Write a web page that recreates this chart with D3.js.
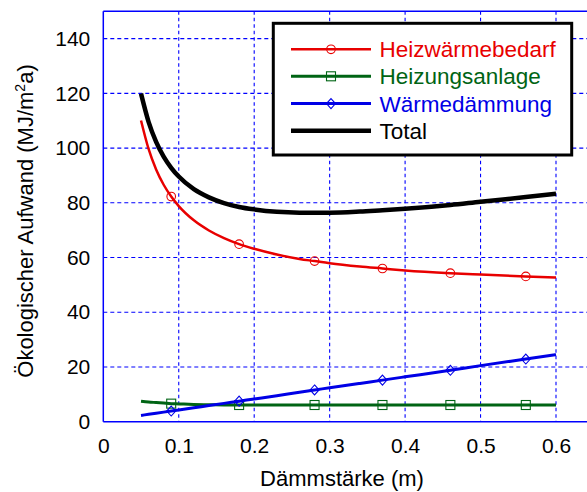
<!DOCTYPE html>
<html>
<head>
<meta charset="utf-8">
<script src="https://cdn.jsdelivr.net/npm/d3@7"></script>
<style>
  body { margin: 0; background: #fff; }
  svg text { font-family: "Liberation Sans", Arial, sans-serif; }
</style>
</head>
<body>
<svg id="chart" width="587" height="492"></svg>
<script>
// Dämmstärke (m)
const thickness = [0.05, 0.06, 0.07, 0.08, 0.09, 0.10, 0.12, 0.14, 0.16, 0.18, 0.20,
  0.23, 0.26, 0.28, 0.30, 0.34, 0.37, 0.40, 0.46, 0.50, 0.56, 0.60];
const heizwaerme = [110.1, 99.7, 92.2, 86.6, 82.3, 78.8, 73.6, 69.9, 67.1, 64.9, 63.2,
  61.1, 59.5, 58.7, 57.9, 56.7, 56.0, 55.3, 54.3, 53.8, 53.1, 52.7];
const heizung = [7.5, 7.2, 7.0, 6.8, 6.6, 6.5, 6.3, 6.2, 6.1, 6.1, 6.1,
  6.1, 6.1, 6.1, 6.1, 6.1, 6.1, 6.1, 6.1, 6.1, 6.1, 6.1];
const daemmung = [2.3, 2.7, 3.1, 3.5, 3.9, 4.3, 5.1, 5.9, 6.7, 7.5, 8.3,
  9.5, 10.8, 11.6, 12.4, 14.0, 15.2, 16.4, 18.8, 20.5, 22.9, 24.5];
const total = [119.9, 109.6, 102.3, 96.9, 92.8, 89.6, 85.0, 82.0, 79.9, 78.5, 77.6,
  76.7, 76.4, 76.4, 76.4, 76.8, 77.3, 77.8, 79.2, 80.4, 82.1, 83.3];
// Markerpositionen
const markerX = [0.09, 0.18, 0.28, 0.37, 0.46, 0.56];
const xTicks = [0, 0.1, 0.2, 0.3, 0.4, 0.5, 0.6];
const yTicks = [0, 20, 40, 60, 80, 100, 120, 140];

const series = [
  { name: 'Heizwärmebedarf', values: heizwaerme, color: '#e80000', width: 2.5, marker: 'circle' },
  { name: 'Heizungsanlage', values: heizung, color: '#006414', width: 3, marker: 'square' },
  { name: 'Wärmedämmung', values: daemmung, color: '#0000e6', width: 3, marker: 'diamond' },
  { name: 'Total', values: total, color: '#000000', width: 4.5, marker: null }
];

const svg = d3.select('#chart');
const plot = { left: 103.3, top: 11.3, bottom: 421.7 };

const x = d3.scaleLinear().domain([0, 0.65]).range([plot.left, plot.left + 754.5 * 0.65]);
const y = d3.scaleLinear().domain([0, 150]).range([plot.bottom, plot.top]);

const gridColor = '#0000ff';

// Gitter
svg.append('g')
  .selectAll('line')
  .data(xTicks.slice(1))
  .enter()
  .append('line')
  .attr('x1', d => x(d)).attr('x2', d => x(d))
  .attr('y1', plot.top).attr('y2', plot.bottom)
  .attr('stroke', gridColor)
  .attr('stroke-width', 1.1)
  .attr('stroke-dasharray', '3.5,3');
svg.append('g')
  .selectAll('line')
  .data(yTicks.slice(1))
  .enter()
  .append('line')
  .attr('x1', plot.left).attr('x2', 600)
  .attr('y1', d => y(d)).attr('y2', d => y(d))
  .attr('stroke', gridColor)
  .attr('stroke-width', 1.1)
  .attr('stroke-dasharray', '4,3');

// Achsen
const xAxis = d3.axisBottom(x).tickValues(xTicks).tickSize(0).tickPadding(16)
  .tickFormat(d => d === 0 ? '0' : d3.format('.1f')(d));
const yAxis = d3.axisLeft(y).tickValues(yTicks).tickSize(0).tickPadding(13);

const gx = svg.append('g')
  .attr('transform', 'translate(0,' + plot.bottom + ')')
  .call(xAxis);
const gy = svg.append('g')
  .attr('transform', 'translate(' + plot.left + ',0)')
  .call(yAxis);
[gx, gy].forEach(g => {
  g.select('.domain').remove();
  g.selectAll('text')
    .attr('fill', '#000')
    .style('font-size', '21px');
});

// Rahmen
svg.append('line')
  .attr('x1', plot.left).attr('x2', 600)
  .attr('y1', plot.bottom).attr('y2', plot.bottom)
  .attr('stroke', gridColor).attr('stroke-width', 1.5);
svg.append('line')
  .attr('x1', plot.left).attr('x2', 600)
  .attr('y1', plot.top).attr('y2', plot.top)
  .attr('stroke', gridColor).attr('stroke-width', 1.5);
svg.append('line')
  .attr('x1', plot.left).attr('x2', plot.left)
  .attr('y1', plot.top).attr('y2', plot.bottom)
  .attr('stroke', gridColor).attr('stroke-width', 1.5);

// Kurven
const line = d3.line()
  .x((d, i) => x(thickness[i]))
  .y(d => y(d))
  .curve(d3.curveMonotoneX);

function drawMarker(g, type, cx, cy, color) {
  if (type === 'circle') {
    g.append('circle')
      .attr('cx', cx).attr('cy', cy).attr('r', 4.3)
      .attr('fill', 'none').attr('stroke', color).attr('stroke-width', 1.1);
  } else if (type === 'square') {
    g.append('rect')
      .attr('x', cx - 4.5).attr('y', cy - 4.5)
      .attr('width', 9).attr('height', 9)
      .attr('fill', 'none').attr('stroke', color).attr('stroke-width', 1.1);
  } else if (type === 'diamond') {
    g.append('path')
      .attr('d', 'M' + cx + ',' + (cy - 5) + 'L' + (cx + 4.5) + ',' + cy +
        'L' + cx + ',' + (cy + 5) + 'L' + (cx - 4.5) + ',' + cy + 'Z')
      .attr('fill', 'none').attr('stroke', color).attr('stroke-width', 1.1);
  }
}

series.forEach(s => {
  svg.append('path')
    .datum(s.values)
    .attr('d', line)
    .attr('fill', 'none')
    .attr('stroke', s.color)
    .attr('stroke-width', s.width)
    .attr('stroke-linejoin', 'round');
  if (s.marker) {
    const g = svg.append('g');
    markerX.forEach(mx => {
      const idx = thickness.indexOf(mx);
      drawMarker(g, s.marker, x(mx), y(s.values[idx]), s.color);
    });
  }
});

// Legende
const legend = svg.append('g');
legend.append('rect')
  .attr('x', 273.3).attr('y', 23.3)
  .attr('width', 298.4).attr('height', 131.7)
  .attr('fill', '#fff')
  .attr('stroke', '#000')
  .attr('stroke-width', 3);
const rowY = [49.3, 76.3, 103.6, 130.7];
series.forEach((s, i) => {
  legend.append('line')
    .attr('x1', 291).attr('x2', 371)
    .attr('y1', rowY[i]).attr('y2', rowY[i])
    .attr('stroke', s.color)
    .attr('stroke-width', s.width);
  if (s.marker) drawMarker(legend, s.marker, 331, rowY[i], s.color);
  legend.append('text')
    .attr('x', 379.5)
    .attr('y', rowY[i])
    .attr('dy', '0.36em')
    .attr('fill', s.color)
    .style('font-size', '22.5px')
    .text(s.name);
});

// Achsentitel
svg.append('text')
  .attr('x', 342)
  .attr('y', 486)
  .attr('text-anchor', 'middle')
  .style('font-size', '22px')
  .text('Dämmstärke (m)');

const yTitle = svg.append('text')
  .attr('transform', 'translate(33,221) rotate(-90)')
  .attr('text-anchor', 'middle')
  .style('font-size', '22px');
yTitle.append('tspan').text('Ökologischer Aufwand (MJ/m');
yTitle.append('tspan').attr('dy', -8).style('font-size', '14px').text('2');
yTitle.append('tspan').attr('dy', 8).text('a)');
</script>
</body>
</html>
